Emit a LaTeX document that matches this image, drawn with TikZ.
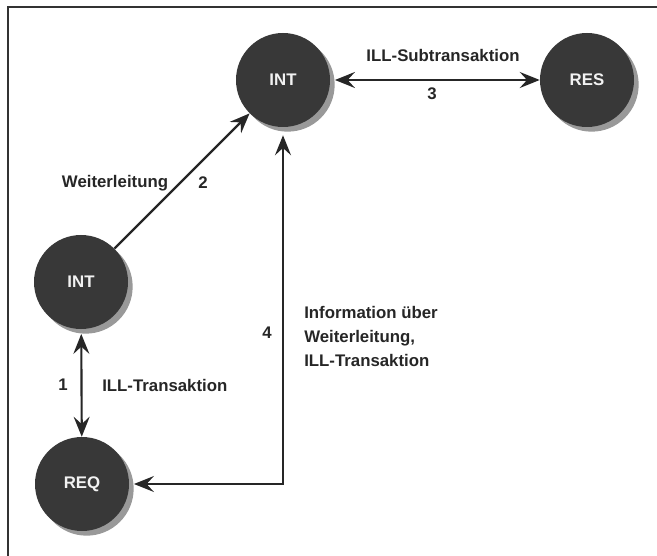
\documentclass[tikz,border=0pt]{standalone}
\usepackage{fontspec}
\setmainfont{Liberation Sans}
\usetikzlibrary{arrows.meta,shadows}
\begin{document}
\begin{tikzpicture}[x=0.75pt,y=-0.75pt,
  state/.style={circle, minimum size=70.5pt, inner sep=0pt,
    fill=black!78, text=black!5,
    drop shadow={shadow xshift=3.5pt, shadow yshift=-3.5pt, fill=black!40, opacity=1},
    font=\fontsize{12.6}{15}\selectfont\bfseries},
  lbl/.style={font=\fontsize{12.6}{18}\selectfont\bfseries, text=black!85, inner sep=0pt},
  conn/.style={line width=1.6pt, draw=black!85,
    {Stealth[length=15pt,width=12pt,inset=5.5pt]}-{Stealth[length=15pt,width=12pt,inset=5.5pt]}},
  connthin/.style={line width=1.1pt, draw=black!85,
    {Stealth[length=15pt,width=12pt,inset=5.5pt]}-{Stealth[length=15pt,width=12pt,inset=5.5pt]}}
]
\useasboundingbox (0,0) rectangle (657,556);
\fill[white] (0,0) rectangle (657,556);
\draw[line width=0.9pt, black!80] (8,556) -- (8,7) -- (657,7);

\node[state] (intT) at (283,80) {INT};
\node[state] (res) at (587,80) {RES};
\node[state] (intL) at (81,282) {INT};
\node[state] (req) at (82,484) {REQ};

\draw[conn, shorten <=3.5pt] (intT) -- (res);
\draw[line width=1.6pt, draw=black!85, -{Stealth[length=15pt,width=12pt,inset=5.5pt]}] (intL) -- (intT);
\draw[conn, shorten <=3.5pt] (intL) -- (req);
\draw[connthin, shorten <=3.5pt, shorten >=6pt] (req) -| (intT);

\node[lbl] (l3a) at (443,55) {ILL-Subtransaktion};
\node[lbl] (l3b) at (432,94) {3};
\node[lbl] (l2a) at (115,183) {Weiterleitung};
\node[lbl] (l2b) at (203,183) {2};
\node[lbl] (l1a) at (63,385) {1};
\node[lbl, anchor=west] (l1b) at (102,385) {ILL-Transaktion};
\node[lbl] (l4a) at (267,333) {4};
\node[lbl, anchor=west, align=left] (l4b) at (304,336) {Information über\\Weiterleitung,\\ILL-Transaktion};
\end{tikzpicture}
\end{document}
